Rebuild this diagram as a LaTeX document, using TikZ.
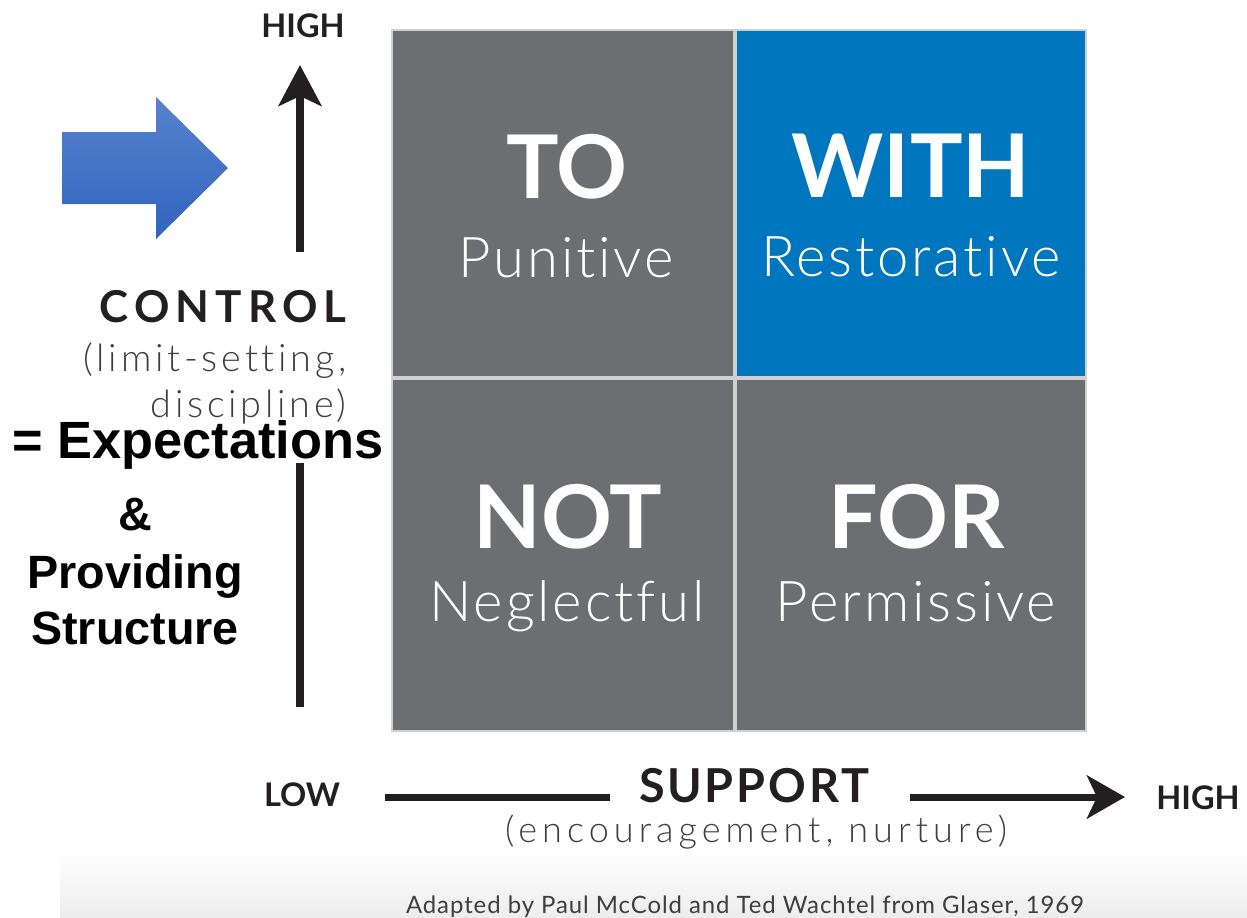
\documentclass[tikz,border=0pt]{standalone}
\usepackage{fontspec}
\setmainfont{Lato}[Ligatures={NoCommon}]
\IfFontExistsTF{Lato Light}{\newfontfamily\thinfont{Lato Light}[Ligatures={NoCommon}]}{\newfontfamily\thinfont{Lato}[Ligatures={NoCommon}]}
\newfontfamily\arialfont{Liberation Sans}
\usetikzlibrary{positioning,arrows.meta}
\definecolor{cellgray}{RGB}{109,110,113}
\definecolor{cellblue}{RGB}{0,118,190}
\definecolor{gridline}{RGB}{208,208,208}
\definecolor{inkdark}{RGB}{35,31,32}
\definecolor{inksoft}{RGB}{62,62,64}
\definecolor{pointtop}{RGB}{88,130,206}
\definecolor{pointbot}{RGB}{48,100,190}
\tikzset{
  cell/.style  = {rectangle, inner sep=0pt, fill=cellgray},
  big/.style   = {anchor=base, inner sep=0pt, text=white,
                  font=\fontsize{50}{50}\bfseries\selectfont},
  sub/.style   = {anchor=base, inner sep=0pt, text=white,
                  font=\fontsize{32}{32}\thinfont\addfontfeatures{LetterSpace=5}},
  axlab/.style = {anchor=base, inner sep=0pt, text=inkdark,
                  font=\fontsize{18.5}{19}\bfseries\selectfont},
  title/.style = {anchor=base, inner sep=0pt, text=inkdark},
  note/.style  = {anchor=base, inner sep=0pt, text=inksoft},
  claim/.style = {anchor=base, inner sep=0pt, text=black},
  axis/.style  = {line width=4pt, draw=inkdark}
}

\begin{document}
\begin{tikzpicture}[x=0.02cm, y=-0.02cm]
\useasboundingbox (0,0) rectangle (1247,917);

% --- Hintergrund unten ------------------------------------------
\shade[top color=white, bottom color=gray!14] (60,850) rectangle (1247,917);

% --- Raster ------------------------------------------------------
\fill[gridline] (391,29) rectangle (1087,732);
\node[cell, minimum width=6.8cm, minimum height=6.9cm] (to) at (563,203.5) {};
\node[cell, fill=cellblue, minimum width=6.96cm, minimum height=6.9cm] (with) at (911,203.5) {};
\node[cell, minimum width=6.8cm, minimum height=7cm] (not) at (563,555) {};
\node[cell, minimum width=6.96cm, minimum height=7cm] (for) at (911,555) {};

\node[big] (toword)   at (567,198) {TO};
\node[sub] (tosub)    at (566,277) {Punitive};
\node[big] (withword) at (911,197) {WITH};
\node[sub] (withsub)  at (911,276) {Restorative};
\node[big] (notword)  at (568,548) {NOT};
\node[sub] (notsub)   at (567,621) {Neglectful};
\node[big] (forword)  at (917,548) {FOR};
\node[sub] (forsub)   at (916,621) {Permissive};

% --- Achse Control -----------------------------------------------
\node[axlab] (hightop) at (303,37) {HIGH};
\node[title, anchor=base east,
      font=\fontsize{25}{25}\bfseries\selectfont\addfontfeatures{LetterSpace=14}]
      (control) at (347,322) {CONTROL};
\node[note, anchor=base east,
      font=\fontsize{21.5}{22}\thinfont\addfontfeatures{LetterSpace=10}]
      (limits) at (347,371) {(limit-setting,};
\node[note, anchor=base east,
      font=\fontsize{21.5}{22}\thinfont\addfontfeatures{LetterSpace=10}]
      (discip) at (347,417) {discipline)};

\coordinate (ctrlfoot) at (300,707);
\coordinate (ctrlmid)  at (300,463);
\coordinate (ctrlneck) at (300,252);
\coordinate (ctrlhead) at (300,65);
\draw[axis] (ctrlfoot) -- (ctrlmid);
\draw[axis, -{Stealth[length=0.82cm, width=0.86cm, inset=0.2cm]}] (ctrlneck) -- (ctrlhead);

% --- Achse Support -----------------------------------------------
\node[axlab] (low)     at (302,806)  {LOW};
\node[axlab] (highend) at (1198,809) {HIGH};
\node[title, font=\fontsize{26.6}{27}\bfseries\selectfont\addfontfeatures{LetterSpace=6}]
      (support) at (754,802) {SUPPORT};
\node[note, font=\fontsize{20.5}{21}\thinfont\addfontfeatures{LetterSpace=14}]
      (nurture) at (756,842) {(encouragement, nurture)};

\coordinate (suppstart) at (385,797);
\coordinate (suppleft)  at (610,797);
\coordinate (suppright) at (910,797);
\coordinate (supptip)   at (1125,797);
\draw[axis] (suppstart) -- (suppleft);
\draw[axis, -{Stealth[length=0.76cm, width=0.86cm, inset=0.2cm]}] (suppright) -- (supptip);

\node[note, font=\fontsize{13.6}{14}\selectfont\addfontfeatures{LetterSpace=4}]
      (source) at (745,913) {Adapted by Paul McCold and Ted Wachtel from Glaser, 1969};

% --- Pfeil und Ergaenzung ----------------------------------------
\shade[top color=pointtop, bottom color=pointbot]
  (62,132) -- (156,132) -- (156,97) -- (228,168) -- (156,239) -- (156,204) -- (62,204) -- cycle;

\node[claim, font=\fontsize{29.8}{30}\arialfont\bfseries] (expect) at (198,458) {= Expectations};
\node[claim, font=\fontsize{26.6}{27}\arialfont\bfseries] (amp)    at (135,530) {\&};
\node[claim, font=\fontsize{26.6}{27}\arialfont\bfseries] (provid) at (135,588) {Providing};
\node[claim, font=\fontsize{26.6}{27}\arialfont\bfseries] (struct) at (135,644) {Structure};
\end{tikzpicture}
\end{document}
